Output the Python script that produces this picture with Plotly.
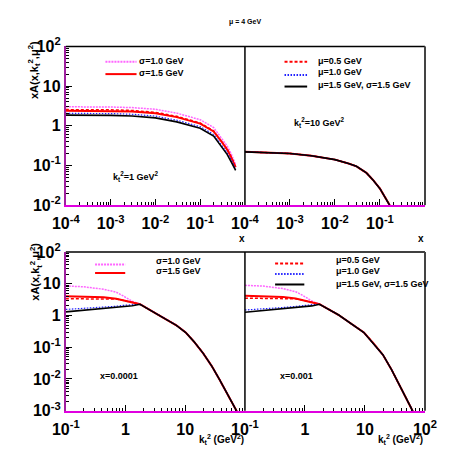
import plotly.graph_objects as go

W, H = 453, 457

# ---------------- data ----------------
# top panels: x values
X_TL = [1e-4, 3e-4, 1e-3, 3e-3, 1e-2, 3e-2, 0.1, 0.2, 0.3, 0.4, 0.5, 0.62]
TL_sig10 = [3.0, 3.0, 2.97, 2.87, 2.6, 2.08, 1.42, 0.9, 0.5, 0.31, 0.19, 0.105]
TL_sig15 = [2.4, 2.4, 2.38, 2.3, 2.07, 1.65, 1.13, 0.72, 0.4, 0.25, 0.155, 0.09]
TL_mu05 = [2.55, 2.55, 2.52, 2.43, 2.18, 1.73, 1.18, 0.74, 0.41, 0.26, 0.16, 0.09]
TL_mu10 = [2.05, 2.05, 2.03, 1.95, 1.75, 1.38, 0.95, 0.6, 0.33, 0.21, 0.135, 0.08]
TL_mu15 = [1.85, 1.85, 1.83, 1.76, 1.58, 1.25, 0.86, 0.55, 0.30, 0.19, 0.12, 0.075]

X_TR = [1e-4, 1e-3, 3e-3, 1e-2, 2e-2, 3e-2, 5e-2, 7e-2, 0.1, 0.13, 0.16, 0.2]
TR_all = [0.22, 0.20, 0.175, 0.14, 0.112, 0.095, 0.065, 0.043, 0.026, 0.016, 0.0105, 0.006]

# bottom panels: kt^2 values
K_BL = [0.1, 0.2, 0.43, 0.7, 0.9, 1.3, 1.75, 3.2, 7.1, 10.2, 14, 20, 28, 37, 55, 72, 80]
BL_tail = [2.26, 1.17, 0.49, 0.29, 0.15, 0.064, 0.025, 0.01, 0.0026, 0.001, 0.0007]
BL_sig10 = [8.5, 8.0, 6.7, 5.4, 4.2, 2.8] + BL_tail
BL_sig15 = [4.0, 3.95, 3.75, 3.35, 3.0, 2.55] + BL_tail
BL_mu05 = [3.35, 3.35, 3.35, 3.3, 3.0, 2.55] + BL_tail
BL_mu10 = [1.55, 1.65, 1.8, 1.95, 2.08, 2.2] + BL_tail
BL_mu15 = [1.3, 1.48, 1.71, 1.88, 1.97, 2.02] + BL_tail

K_BR = [0.1, 0.2, 0.43, 0.7, 0.9, 1.3, 1.75, 3.6, 9.6, 14, 20, 28, 37, 50, 62, 70]
BR_tail = [2.26, 1.05, 0.29, 0.13, 0.057, 0.019, 0.007, 0.0024, 0.001, 0.0006]
BR_sig10 = [8.9, 8.4, 7.0, 5.6, 4.4, 2.85] + BR_tail
BR_sig15 = [4.2, 4.1, 3.85, 3.4, 3.05, 2.55] + BR_tail
BR_mu05 = [3.5, 3.5, 3.45, 3.35, 3.05, 2.55] + BR_tail
BR_mu10 = [1.49, 1.6, 1.78, 1.93, 2.05, 2.18] + BR_tail
BR_mu15 = [1.26, 1.42, 1.65, 1.82, 1.92, 2.0] + BR_tail

LEG_SIG = ["σ=1.0 GeV", "σ=1.5 GeV"]
LEG_MU = ["μ=0.5 GeV", "μ=1.0 GeV", "μ=1.5 GeV, σ=1.5 GeV"]

XT_TOP = [1e-4, 1e-3, 1e-2, 1e-1]
XT_TOP_TXT = ["10<sup>-4</sup>", "10<sup>-3</sup>", "10<sup>-2</sup>", "10<sup>-1</sup>"]
YT_TOP = [1e-2, 1e-1, 1, 10, 100]
YT_TOP_TXT = ["10<sup>-2</sup>", "10<sup>-1</sup>", "1", "10", "10<sup>2</sup>"]
XT_BL = [0.1, 1, 10]
XT_BL_TXT = ["10<sup>-1</sup>", "1", "10"]
XT_BR = [0.1, 1, 10, 100]
XT_BR_TXT = ["10<sup>-1</sup>", "1", "10", "10<sup>2</sup>"]
YT_BOT = [1e-3, 1e-2, 1e-1, 1, 10, 100]
YT_BOT_TXT = ["10<sup>-3</sup>", "10<sup>-2</sup>", "10<sup>-1</sup>", "1", "10", "10<sup>2</sup>"]

# ---------------- styles ----------------
FONT = "Liberation Sans"
MAG = "#ff66ff"
STY = {
    "sig10": dict(color=MAG, width=1.5, dash="2px,1px"),
    "sig15": dict(color="#ff0000", width=2, dash="solid"),
    "mu05": dict(color="#ff0000", width=1.5, dash="3px,2px"),
    "mu10": dict(color="#2020ff", width=1.2, dash="1.5px,1.5px"),
    "mu15": dict(color="#000000", width=1.6, dash="solid"),
}

def px(x):
    return x / W

def py(y):
    return 1 - y / H

fig = go.Figure()

def add(xs, ys, key, ax):
    fig.add_trace(go.Scatter(x=xs, y=ys, mode="lines", line=STY[key],
                             showlegend=False, xaxis="x" + ax, yaxis="y" + ax,
                             hoverinfo="skip"))

for key, ys in [("sig10", TL_sig10), ("sig15", TL_sig15), ("mu05", TL_mu05),
                ("mu10", TL_mu10), ("mu15", TL_mu15)]:
    add(X_TL, ys, key, "")
for key in ["sig10", "sig15", "mu05", "mu10", "mu15"]:
    add(X_TR, TR_all, key, "2")
for key, ys in [("sig10", BL_sig10), ("sig15", BL_sig15), ("mu05", BL_mu05),
                ("mu10", BL_mu10), ("mu15", BL_mu15)]:
    add(K_BL, ys, key, "3")
for key, ys in [("sig10", BR_sig10), ("sig15", BR_sig15), ("mu05", BR_mu05),
                ("mu10", BR_mu10), ("mu15", BR_mu15)]:
    add(K_BR, ys, key, "4")

XL = [55 / W, 245 / W]
XR = [245 / W, 436 / W]
YT = [py(203), py(37)]
YB = [py(418), py(252)]

tickfont = dict(family=FONT, size=16, color="black", weight="bold")

def minor_vals(lo, hi):
    v = []
    for e in range(lo, hi):
        for m in range(2, 10):
            v.append(m * 10 ** e)
    return v

def xax(domain, rng, tv, tt, anchor, lo, hi):
    return dict(domain=domain, type="log", range=rng, anchor=anchor,
                showgrid=False, zeroline=False, showline=True,
                linecolor="#e000e0", linewidth=2,
                ticks="inside", ticklen=6, tickwidth=1, tickcolor="black",
                ticklabelstandoff=3,
                tickmode="array", tickvals=tv, ticktext=tt, tickfont=tickfont,
                minor=dict(ticks="inside", ticklen=3, tickcolor="black",
                           tickmode="array", tickvals=minor_vals(lo, hi), showgrid=False))

def yax(domain, rng, tv, tt, anchor, lo, hi, show=True):
    d = dict(domain=domain, type="log", range=rng, anchor=anchor,
             showgrid=False, zeroline=False)
    if show:
        d.update(showline=True, linecolor="#a020a0", linewidth=2,
                 ticks="inside", ticklen=6, tickwidth=1, tickcolor="black",
                 tickmode="array", tickvals=tv, ticktext=tt, tickfont=tickfont,
                 minor=dict(ticks="inside", ticklen=3, tickcolor="black",
                            tickmode="array", tickvals=minor_vals(lo, hi), showgrid=False))
    else:
        d.update(showline=False, showticklabels=False, ticks="")
    return d

fig.update_layout(
    width=W, height=H, margin=dict(l=0, r=0, t=0, b=0),
    paper_bgcolor="white", plot_bgcolor="white", showlegend=False,
    xaxis=xax(XL, [-4, 0], XT_TOP, XT_TOP_TXT, "y", -4, 0),
    yaxis=yax(YT, [-2, 2], YT_TOP, YT_TOP_TXT, "x", -2, 2),
    xaxis2=xax(XR, [-4, 0], XT_TOP, XT_TOP_TXT, "y2", -4, 0),
    yaxis2=yax(YT, [-2, 2], YT_TOP, YT_TOP_TXT, "x2", -2, 2, show=False),
    xaxis3=xax(XL, [-1, 2], XT_BL, XT_BL_TXT, "y3", -1, 2),
    yaxis3=yax(YB, [-3, 2], YT_BOT, YT_BOT_TXT, "x3", -3, 2),
    xaxis4=xax(XR, [-1, 2], XT_BR, XT_BR_TXT, "y4", -1, 2),
    yaxis4=yax(YB, [-3, 2], YT_BOT, YT_BOT_TXT, "x4", -3, 2, show=False),
)

shapes = []
# frames: top edge & right edges
for (x0, x1, y0, y1) in [(XL[0], XR[1], YT[0], YT[1]), (XL[0], XR[1], YB[0], YB[1])]:
    shapes.append(dict(type="line", xref="paper", yref="paper", x0=x0, x1=x1, y0=y1, y1=y1,
                       line=dict(color="black", width=1.5)))
    shapes.append(dict(type="line", xref="paper", yref="paper", x0=XL[1], x1=XL[1], y0=y0, y1=y1,
                       line=dict(color="black", width=1.5)))
    shapes.append(dict(type="line", xref="paper", yref="paper", x0=XR[1], x1=XR[1], y0=y0, y1=y1,
                       line=dict(color="#444444", width=2)))

annots = []
small = dict(family=FONT, size=9, color="black", weight="bold")

def legend(entries, x0, x1, ys, xt, yts):
    for (lab, key), yl, ytx in zip(entries, ys, yts):
        st = STY[key]
        shapes.append(dict(type="line", xref="paper", yref="paper",
                           x0=px(x0), x1=px(x1), y0=py(yl), y1=py(yl),
                           line=dict(color=st["color"], width=2, dash=st["dash"])))
        annots.append(dict(x=px(xt), y=py(ytx), xref="paper", yref="paper", text=lab,
                           showarrow=False, xanchor="left", yanchor="middle", font=small))

sig_entries = [(LEG_SIG[0], "sig10"), (LEG_SIG[1], "sig15")]
mu_entries = [(LEG_MU[0], "mu05"), (LEG_MU[1], "mu10"), (LEG_MU[2], "mu15")]
legend(sig_entries, 97, 130, [53, 66], 130, [52, 65])
legend(mu_entries, 287, 311, [53, 67, 79], 320, [52, 64, 77])
legend(sig_entries, 86, 118, [265, 274], 149, [261, 272])
legend(mu_entries, 277, 308, [264, 275, 286], 339, [260, 272, 285])

def txt(t, x, y, size=9, angle=0, xa="center"):
    annots.append(dict(x=px(x), y=py(y), xref="paper", yref="paper", text=t,
                       showarrow=False, xanchor=xa, yanchor="middle", textangle=angle,
                       font=dict(family=FONT, size=size, color="black", weight="bold")))

txt("μ = 4 GeV", 245, 12, size=7)
txt("k<sub>t</sub><sup>2</sup>=1 GeV<sup>2</sup>", 103, 173, xa="left")
txt("k<sub>t</sub><sup>2</sup>=10 GeV<sup>2</sup>", 295, 117, xa="left")
txt("x=0.0001", 89, 382, xa="left")
txt("x=0.001", 280, 382, xa="left")
txt("x", 242, 238, size=10)
txt("x", 432, 238, size=10)
txt("k<sub>t</sub><sup>2</sup> (GeV<sup>2</sup>)", 220, 448, size=10)
txt("k<sub>t</sub><sup>2</sup> (GeV<sup>2</sup>)", 410, 448, size=10)
txt("xA(x,k<sub>t</sub><sup>2</sup>,μ<sup>2</sup>)", 22, 62, size=11, angle=-90)
txt("xA(x,k<sub>t</sub><sup>2</sup>,μ<sup>2</sup>)", 23, 273, size=11, angle=-90)

fig.update_layout(shapes=shapes, annotations=annots)
fig.write_html("out.html")
